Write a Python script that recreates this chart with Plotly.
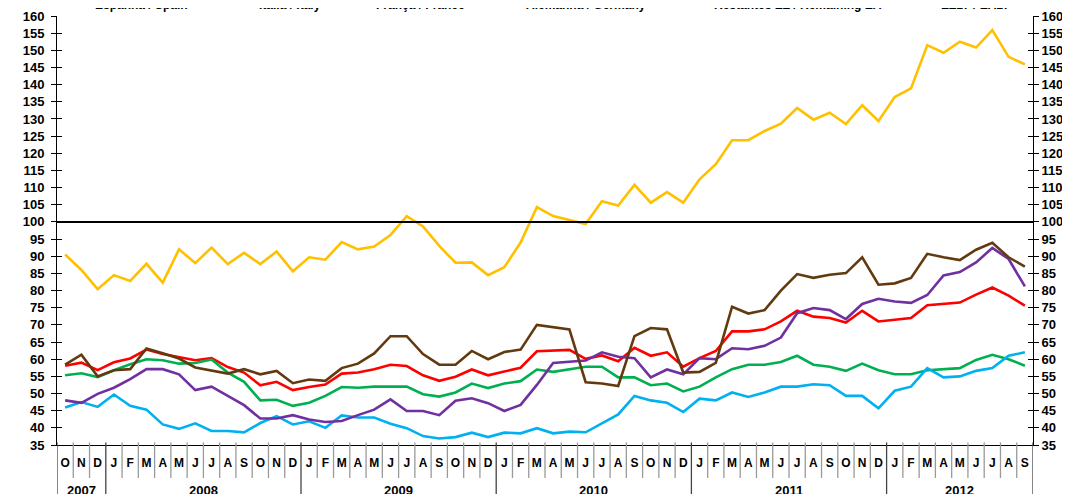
import plotly.graph_objects as go

# ---- data ----
month_letters = ["O", "N", "D"] + ["J", "F", "M", "A", "M", "J", "J", "A", "S", "O", "N", "D"] * 4 + ["J", "F", "M", "A", "M", "J", "J", "A", "S"]
years = ["2007", "2008", "2009", "2010", "2011", "2012"]
months_per_year = [3, 12, 12, 12, 12, 9]

series_names = ["Espanha / Spain", "Itália / Italy", "França / France", "Alemanha / Germany",
                "Restantes EZ / Remaining EA", "EZ17 / EA17"]

yellow = [90.5, 86, 80.4, 84.5, 82.8, 87.8, 82.3, 92, 88, 92.5, 87.7, 91, 87.7, 91.4, 85.6, 89.7, 89, 94.1,
          92, 92.8, 96.2, 101.7, 98.7, 93, 88.1, 88.2, 84.5, 86.8, 94, 104.3, 101.7, 100.6, 99.4, 106, 104.8,
          110.8, 105.6, 108.7, 105.6, 112.4, 116.8, 123.8, 123.8, 126.5, 128.6, 133.2, 129.8, 131.8, 128.5,
          134, 129.4, 136.4, 138.9, 151.5, 149.3, 152.5, 150.8, 155.9, 148.1, 145.9]
red = [58.1, 59, 56.8, 59.1, 60.2, 62.8, 61.5, 60.7, 59.7, 60.3, 57.7, 56.1, 52.4, 53.4, 51, 51.9, 52.6, 55.8,
       56.1, 57.1, 58.4, 58, 55.3, 53.7, 54.9, 57, 55.3, 56.4, 57.5, 62.3, 62.4, 62.7, 60.1, 61.1, 59.4, 63.3,
       61, 62, 57.8, 60.3, 62.4, 68.1, 68.1, 68.7, 71, 74.1, 72.4, 72, 70.7, 74.1, 71, 71.4, 72, 75.7, 76.1,
       76.5, 78.8, 80.9, 78.5, 75.6]
brown = [58.4, 61.3, 55, 56.8, 57.1, 63.1, 61.7, 60.2, 57.6, 56.6, 55.8, 57.1, 55.6, 56.6, 53, 54.1, 53.7, 57.4,
         58.7, 61.7, 66.7, 66.7, 61.5, 58.4, 58.4, 62.4, 60, 62.1, 62.8, 70, 69.4, 68.7, 53.3, 52.9, 52.2, 66.7,
         69.1, 68.7, 56.1, 56.3, 58.9, 75.3, 73.3, 74.3, 80, 84.8, 83.7, 84.6, 85.1, 89.7, 81.7, 82.1, 83.7,
         90.7, 89.7, 88.9, 91.9, 93.9, 89.7, 87]
green = [55.3, 55.9, 54.8, 56.8, 58.5, 60, 59.7, 58.7, 58.9, 59.9, 56.1, 53.4, 48, 48.2, 46.4, 47.3, 49.3, 51.9,
         51.7, 52, 52, 52, 49.8, 49.1, 50.3, 52.9, 51.6, 52.9, 53.6, 57, 56.3, 57.1, 57.8, 57.8, 54.7, 54.7,
         52.4, 52.9, 50.6, 52, 54.7, 57.1, 58.4, 58.4, 59.2, 61, 58.4, 57.8, 56.6, 58.7, 56.8, 55.6, 55.6, 56.8,
         57.1, 57.4, 59.8, 61.3, 60, 58.1]
purple = [48, 47.3, 49.9, 51.7, 54.2, 57.1, 57.1, 55.6, 51, 52, 49.3, 46.6, 42.7, 42.7, 43.7, 42.4, 41.7, 42,
          43.7, 45.3, 48.3, 44.9, 44.9, 43.7, 47.9, 48.6, 47.2, 44.9, 46.7, 52.5, 58.9, 59.3, 59.6, 62, 60.7,
          60.3, 54.7, 57, 55.6, 60.3, 60, 63.2, 62.9, 63.9, 66.3, 73.4, 74.9, 74.3, 71.7, 76.1, 77.6, 76.8, 76.4,
          78.7, 84.4, 85.4, 88.2, 92.4, 89.2, 81.2]
lightblue = [45.9, 47.5, 46.1, 49.7, 46.4, 45.3, 41, 39.7, 41.3, 39.1, 39.1, 38.7, 41.4, 43.4, 41, 41.9, 40, 43.6,
             43, 43, 41.2, 39.9, 37.6, 36.9, 37.3, 38.6, 37.3, 38.6, 38.4, 39.9, 38.4, 38.9, 38.7, 41.3, 43.9,
             49.3, 48, 47.3, 44.6, 48.5, 48, 50.3, 49, 50.3, 52, 52, 52.7, 52.4, 49.3, 49.3, 45.7, 50.8, 52, 57.4,
             54.7, 55, 56.6, 57.4, 61, 62]

y_ticks = list(range(35, 161, 5))
reference_level = 100

# ---- figure ----
x = list(range(len(month_letters)))
series = [
    (series_names[0], red, "#FF0000"),
    (series_names[1], green, "#00B050"),
    (series_names[2], lightblue, "#00B0F0"),
    (series_names[3], purple, "#7030A0"),
    (series_names[4], brown, "#633A10"),
    (series_names[5], yellow, "#FFC000"),
]

fig = go.Figure()
for name, vals, col in series:
    fig.add_trace(go.Scatter(x=x, y=vals, mode="lines", name=name,
                             line=dict(color=col, width=2.6), showlegend=False))

# page body has an 8px margin: figure is sized so that it ends at the window edges
OFF = 8
W, H = 1070 - OFF, 494 - OFF
ml, mr, mt, mb = 57 - OFF, 37, 16 - OFF, 49
ph = H - mt - mb
pw = W - ml - mr

font_b = dict(family="Liberation Sans, Arial", size=13, color="#000", weight="bold")
yrange = [35, 160]

fig.update_layout(
    width=W, height=H, autosize=False,
    margin=dict(l=ml, r=mr, t=mt, b=mb, pad=0, autoexpand=False),
    paper_bgcolor="white", plot_bgcolor="white",
    xaxis=dict(range=[-0.5, len(x) - 0.5], tickvals=x, ticktext=month_letters, automargin=False,
               showgrid=False, zeroline=False, showline=True, linecolor="#000", linewidth=1,
               ticks="", tickfont=dict(family="Liberation Sans, Arial", size=12, color="#000", weight="bold"),
               ticklabelstandoff=7),
    yaxis=dict(range=yrange, tickvals=y_ticks, showgrid=False, zeroline=False, automargin=False,
               showline=True, linecolor="#000", linewidth=1, ticks="outside", ticklen=5,
               tickcolor="#000", tickfont=font_b, ticklabelstandoff=4),
    yaxis2=dict(range=yrange, tickvals=y_ticks, overlaying="y", side="right", showgrid=False,
                zeroline=False, showline=True, linecolor="#000", linewidth=1, ticks="outside",
                ticklen=5, tickcolor="#000", tickfont=font_b, ticklabelstandoff=0, automargin=False),
    yaxis3=dict(range=yrange, tickvals=y_ticks, overlaying="y", side="left", showgrid=False,
                zeroline=False, showline=False, ticks="inside", ticklen=5, tickcolor="#000",
                showticklabels=False, automargin=False),
    yaxis4=dict(range=yrange, tickvals=y_ticks, overlaying="y", side="right", showgrid=False,
                zeroline=False, showline=False, ticks="inside", ticklen=5, tickcolor="#000",
                showticklabels=False, automargin=False),
)
# invisible traces to activate overlay axes
for ax in ["y2", "y3", "y4"]:
    fig.add_trace(go.Scatter(x=[x[0]], y=[yrange[0]], yaxis=ax, mode="markers",
                             marker=dict(opacity=0), showlegend=False, hoverinfo="skip"))

# reference line at 100
fig.add_shape(type="line", xref="paper", x0=0, x1=1, yref="y", y0=reference_level, y1=reference_level,
              line=dict(color="#000", width=2))

# month separators and year separators
month_sep_bottom = -33 / ph
year_sep_bottom = -55 / ph
boundaries = []
acc = 0
for n in months_per_year:
    boundaries.append(acc)
    acc += n
boundaries.append(acc)
for i in range(len(x) + 1):
    is_year = i in boundaries
    fig.add_shape(type="line", xref="x", x0=i - 0.5, x1=i - 0.5, yref="paper",
                  y0=0.006, y1=year_sep_bottom if is_year else month_sep_bottom,
                  line=dict(color="#444" if is_year else "#9a9a9a", width=1.3))

# year labels
for k, yr in enumerate(years):
    center = (boundaries[k] + boundaries[k + 1] - 1) / 2
    fig.add_annotation(x=center, xref="x", y=-45 / ph, yref="paper", text=yr, showarrow=False,
                       font=dict(family="Liberation Sans, Arial", size=13, color="#000", weight="bold"),
                       yanchor="middle")

# legend text (cut off by the top of the window)
legend_centers_px = [141, 290, 420, 586, 798, 975]
for name, cx in zip(series_names, legend_centers_px):
    fig.add_annotation(x=(cx - OFF - ml) / pw, xref="paper", y=(ph + mt + OFF - 4.5) / ph, yref="paper",
                       text=name, showarrow=False, yanchor="middle", xanchor="center",
                       font=dict(family="Liberation Sans, Arial", size=12, color="#000", weight="bold"))

fig.write_html("out.html")
